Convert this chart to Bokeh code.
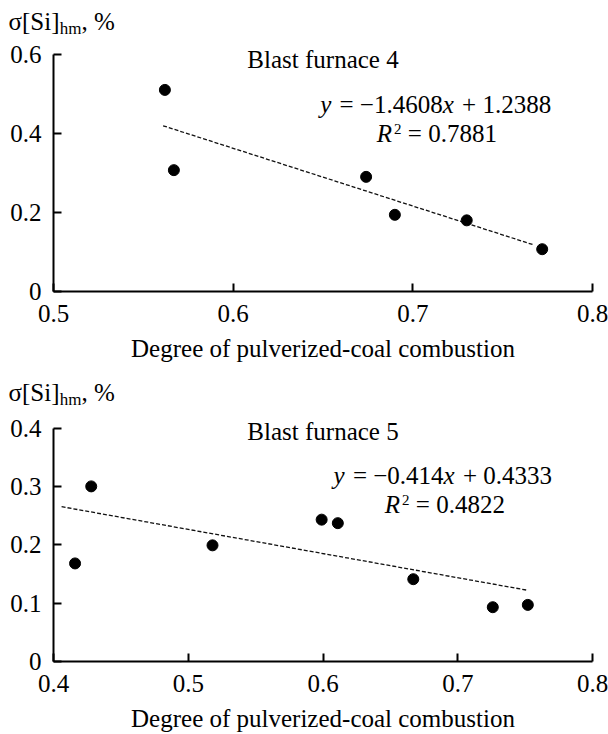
from bokeh.plotting import figure
from bokeh.models import Label, FixedTicker, CustomJSTickFormatter
from bokeh.layouts import column
from bokeh.embed import file_html
from bokeh.resources import INLINE

# ---------------- data ----------------
bf4_x = [0.562, 0.567, 0.674, 0.690, 0.730, 0.772]
bf4_y = [0.510, 0.307, 0.290, 0.194, 0.180, 0.107]
bf4_fit_x = [0.561, 0.767]
bf4_slope, bf4_intercept = -1.4608, 1.2388
bf4_eq = ["y", " = −1.4608", "x", " + 1.2388"]
bf4_r2 = " = 0.7881"
bf4_title = "Blast furnace 4"
bf4_xticks = [0.5, 0.6, 0.7, 0.8]
bf4_xlabels = ["0.5", "0.6", "0.7", "0.8"]
bf4_yticks = [0.0, 0.2, 0.4, 0.6]
bf4_ylabels = ["0", "0.2", "0.4", "0.6"]

bf5_x = [0.416, 0.428, 0.518, 0.599, 0.611, 0.667, 0.726, 0.752]
bf5_y = [0.168, 0.300, 0.199, 0.243, 0.237, 0.141, 0.093, 0.097]
bf5_fit_x = [0.406, 0.752]
bf5_slope, bf5_intercept = -0.414, 0.4333
bf5_eq = ["y", " = −0.414", "x", " + 0.4333"]
bf5_r2 = " = 0.4822"
bf5_title = "Blast furnace 5"
bf5_xticks = [0.4, 0.5, 0.6, 0.7, 0.8]
bf5_xlabels = ["0.4", "0.5", "0.6", "0.7", "0.8"]
bf5_yticks = [0.0, 0.1, 0.2, 0.3, 0.4]
bf5_ylabels = ["0", "0.1", "0.2", "0.3", "0.4"]

x_title = "Degree of pulverized-coal combustion"
y_title = ["σ[Si]", "hm", ", %"]

FONT = "Liberation Serif"
FS = 25
WIDTH = 608
LIFT = 0.3  # empirical baseline correction (em)

# approximate Times/Liberation Serif advance widths (em)
W = {'.': .25, ' ': .25, '=': .564, '−': .564, '+': .564, ',': .25, '%': .833,
     '[': .333, ']': .333, 'S': .556, 'i': .278, 'h': .5, 'm': .778, 'σ': .55,
     'y': .444, 'x': .444, 'R': .611}


def text_w(s, size):
    return sum(W.get(c, 0.5) for c in s) * size


def rich(p, x, y, pieces, align="left"):
    """pieces: (text, size, italic, dy); y is the baseline of the main text."""
    items = []
    for t, sz, it, dy in pieces:
        lead = len(t) - len(t.lstrip(" "))
        core = t.strip(" ")
        trail = len(t) - len(t.rstrip(" "))
        items.append((lead * W[' '] * sz, core, sz, it, dy,
                      text_w(core, sz) + (0.08 * sz if it else 0), trail * W[' '] * sz))
    total = sum(a + w + b for a, _, _, _, _, w, b in items)
    acc = -total / 2 if align == "center" else 0
    for lead, core, sz, it, dy, w, trail in items:
        acc += lead
        p.add_layout(Label(x=x, y=y, x_offset=acc, y_offset=dy + LIFT * sz, text=core,
                           text_font=FONT, text_font_size=f"{sz}px",
                           text_font_style="italic" if it else "normal",
                           text_align="left", text_baseline="alphabetic",
                           text_color="black"))
        acc += w + trail


def header(height, baseline_y):
    h = figure(width=WIDTH, height=height, x_range=(0, WIDTH), y_range=(0, height),
               title=None, output_backend="svg", toolbar_location=None,
               x_axis_location=None, y_axis_location=None, min_border=0,
               frame_align=False)
    h.outline_line_color = None
    h.xgrid.visible = False
    h.ygrid.visible = False
    rich(h, 8, baseline_y, [(y_title[0], FS, False, 0), (y_title[1], 17, False, -5),
                            (y_title[2], FS, False, 0)])
    return h


def make(xr, yr, ybound, xticks, xlabels, yticks, ylabels, height, top, bottom):
    p = figure(width=WIDTH, height=height, x_range=xr, y_range=yr, title=None,
               output_backend="svg", toolbar_location=None, frame_align=False,
               min_border_left=53, min_border_right=16,
               min_border_top=top, min_border_bottom=bottom)
    p.outline_line_color = None
    p.xgrid.visible = False
    p.ygrid.visible = False
    p.background_fill_color = "white"
    p.border_fill_color = "white"
    for ax, ticks, labels in ((p.xaxis[0], xticks, xlabels), (p.yaxis[0], yticks, ylabels)):
        ax.ticker = FixedTicker(ticks=ticks, minor_ticks=[])
        ax.formatter = CustomJSTickFormatter(args=dict(labels=labels), code="return labels[index]")
        ax.axis_line_width = 2
        ax.axis_line_color = "black"
        ax.major_tick_in = 8
        ax.major_tick_out = 0
        ax.major_tick_line_width = 2
        ax.major_tick_line_color = "black"
        ax.minor_tick_line_color = None
        ax.major_label_text_font = FONT
        ax.major_label_text_font_size = f"{FS}px"
        ax.major_label_text_color = "black"
    p.yaxis.bounds = ybound
    p.xaxis.major_label_standoff = 13
    p.yaxis.major_label_standoff = 12
    p.xaxis.axis_label = x_title
    p.xaxis.axis_label_text_font = FONT
    p.xaxis.axis_label_text_font_size = f"{FS}px"
    p.xaxis.axis_label_text_font_style = "normal"
    p.xaxis.axis_label_text_color = "black"
    p.xaxis.axis_label_standoff = 10
    return p


def title_label(p, x, y, text):
    p.add_layout(Label(x=x, y=y, y_offset=LIFT * FS, text=text, text_font=FONT,
                       text_font_size=f"{FS}px", text_align="center",
                       text_baseline="alphabetic", text_color="black"))


# ---------------- panel 1 ----------------
h1 = header(40, 12)
p1 = make((0.5, 0.8), (0, 0.635), (0, 0.6), bf4_xticks, bf4_xlabels, bf4_yticks, bf4_ylabels,
          324, 0, 71)
p1.line(bf4_fit_x, [bf4_slope * v + bf4_intercept for v in bf4_fit_x],
        line_dash="4 2", line_width=1.3, line_color="#111111")
p1.scatter(bf4_x, bf4_y, size=11, color="black")
title_label(p1, 0.650, 0.567, bf4_title)
rich(p1, 0.7127, 0.455, [(bf4_eq[0], FS, True, 0), (bf4_eq[1], FS, False, 0),
                         (bf4_eq[2], FS, True, 0), (bf4_eq[3], FS, False, 0)], "center")
rich(p1, 0.7134, 0.380, [("R", FS, True, 0), ("2", 15, False, 8),
                         (bf4_r2, FS, False, 0)], "center")

# ---------------- panel 2 ----------------
h2 = header(46, 11)
p2 = make((0.4, 0.8), (0, 0.430), (0, 0.4), bf5_xticks, bf5_xlabels, bf5_yticks, bf5_ylabels,
          324, 0, 72)
p2.line(bf5_fit_x, [bf5_slope * v + bf5_intercept for v in bf5_fit_x],
        line_dash="4 2", line_width=1.3, line_color="#111111")
p2.scatter(bf5_x, bf5_y, size=11, color="black")
title_label(p2, 0.600, 0.382, bf5_title)
rich(p2, 0.6889, 0.3065, [(bf5_eq[0], FS, True, 0), (bf5_eq[1], FS, False, 0),
                          (bf5_eq[2], FS, True, 0), (bf5_eq[3], FS, False, 0)], "center")
rich(p2, 0.6904, 0.256, [("R", FS, True, 0), ("2", 15, False, 8),
                         (bf5_r2, FS, False, 0)], "center")

layout = column(h1, p1, h2, p2)
open("out.html", "w").write(file_html(layout, INLINE))
